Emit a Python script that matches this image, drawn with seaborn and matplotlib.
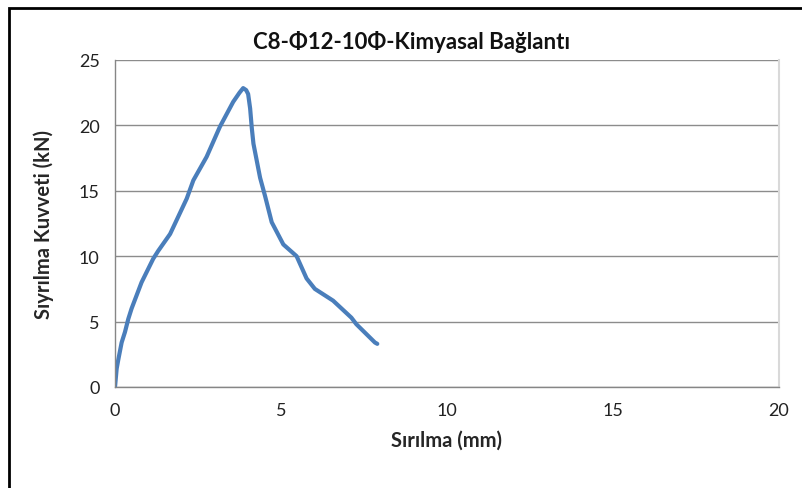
import matplotlib
matplotlib.use("Agg")
import matplotlib.pyplot as plt
import seaborn as sns
import pandas as pd
from matplotlib.patches import Rectangle

# Data
slip_mm = [0.0, 0.05, 0.1, 0.2, 0.3, 0.4, 0.5, 0.65, 0.8, 1.15, 1.3, 1.66,
           2.16, 2.36, 2.76, 3.16, 3.56, 3.75, 3.86, 3.95, 4.01, 4.07, 4.12,
           4.17, 4.37, 4.52, 4.72, 5.07, 5.47, 5.77, 6.02, 6.57, 7.12, 7.27,
           7.83, 7.9]
force_kn = [0.0, 1.4, 2.1, 3.4, 4.2, 5.2, 6.0, 7.0, 8.0, 9.8, 10.4, 11.7,
            14.4, 15.8, 17.6, 19.9, 21.8, 22.5, 22.85, 22.7, 22.4, 21.3, 19.8,
            18.6, 16.0, 14.6, 12.6, 10.9, 10.0, 8.3, 7.5, 6.6, 5.3, 4.8,
            3.4, 3.3]
x_ticks = [0, 5, 10, 15, 20]
y_ticks = [0, 5, 10, 15, 20, 25]

title = "C8-\u03a612-10\u03a6-Kimyasal Ba\u011flant\u0131"
xlabel = "S\u0131r\u0131lma (mm)"
ylabel = "S\u0131yr\u0131lma Kuvveti (kN)"

sns.set_theme(style="white")
plt.rcParams['font.family'] = ['Lato', 'DejaVu Sans']

df = pd.DataFrame({"x": slip_mm, "y": force_kn})

fig = plt.figure(figsize=(8.03, 4.89), dpi=100)
ax = fig.add_axes([115/803, 1-388/489, (779-115)/803, (388-61)/489])

sns.lineplot(data=df, x="x", y="y", ax=ax, color="#4A7EBB", lw=3,
             sort=False, estimator=None)

ax.set_xlim(0, 20)
ax.set_ylim(0, 25)
ax.set_xticks(x_ticks)
ax.set_yticks(y_ticks)
ax.tick_params(axis='both', labelsize=13, colors='#222222', length=5,
               width=1, direction='out', pad=6)
ax.tick_params(axis='both', color='#868686')
ax.yaxis.grid(True, color='#8c8c8c', lw=1)
ax.xaxis.grid(False)
for s in ['left', 'bottom']:
    ax.spines[s].set_color('#868686')
    ax.spines[s].set_linewidth(1)
ax.spines['top'].set_visible(False)
ax.spines['right'].set_color('#d9d9d9')
ax.spines['right'].set_linewidth(1.5)

ax.set_xlabel(xlabel, fontsize=14.5, fontweight='bold', labelpad=8)
ax.set_ylabel(ylabel, fontsize=14.5, fontweight='bold', labelpad=18)
fig.text(0.512, 1-42/489, title, ha='center', va='center', fontsize=16,
         fontweight='bold', color='#111111')

# Chart area frame (top and left visible)
fig.patches.append(Rectangle((9/803, -0.1), 1.2, 1 - 9/489 + 0.1,
                             transform=fig.transFigure, fill=False,
                             edgecolor='black', lw=2, zorder=10))

fig.savefig("out.png", dpi=100)
